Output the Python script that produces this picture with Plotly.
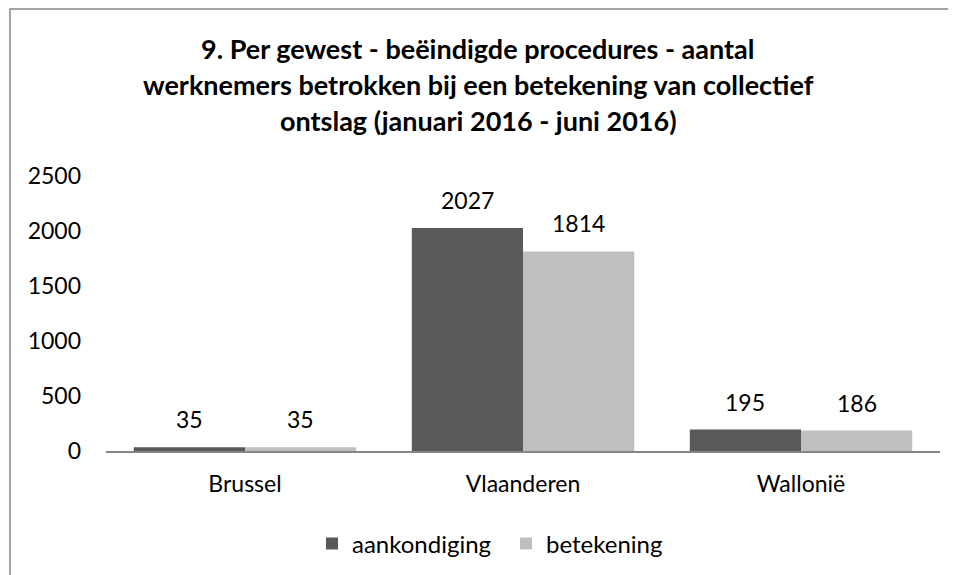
import plotly.graph_objects as go

categories = ["Brussel", "Vlaanderen", "Wallonië"]
series_names = ["aankondiging", "betekening"]
aankondiging = [35, 2027, 195]
betekening = [35, 1814, 186]
y_ticks = [0, 500, 1000, 1500, 2000, 2500]

title_lines = ["9. Per gewest - beëindigde procedures - aantal",
               "werknemers betrokken bij een betekening van collectief",
               "ontslag (januari 2016 - juni 2016)"]

colors = ["#595959", "#BFBFBF"]
FONT = "Lato, 'Open Sans', sans-serif"

W, H = 956, 575
OFF = 8  # page body margin offset
ml, mt = 106 - OFF, 176 - OFF
plot_w = 940 - 106
plot_h = 451 - 176
mr = W - ml - plot_w
mb = H - mt - plot_h


def paper_y(screen_y):
    return (451 - screen_y) / plot_h


def paper_x(screen_x):
    return (screen_x - 106) / plot_w


fig = go.Figure()
for name, vals, col in zip(series_names, [aankondiging, betekening], colors):
    fig.add_trace(go.Bar(name=name, x=categories, y=vals, marker_color=col,
                         marker_line_width=0))

# data labels above bars
cat_w = plot_w / len(categories)
bar_w = cat_w * 0.8 / 2
for i, vals in enumerate([aankondiging, betekening]):
    shift = (i - 0.5) * bar_w
    for c, v in zip(categories, vals):
        fig.add_annotation(x=c, y=v, text=str(v), showarrow=False,
                           xshift=shift, yshift=28, yanchor="middle",
                           font=dict(family=FONT, size=23, color="#000000"))

# title, three lines
for k, line in enumerate(title_lines):
    fig.add_annotation(xref="paper", yref="paper", x=paper_x(478),
                       y=paper_y(49 + 35.5 * k), text="<b>" + line + "</b>",
                       showarrow=False, xanchor="center", yanchor="middle",
                       font=dict(family=FONT, size=27, color="#000000"))

# chart border (partly off-screen like in the reference)
fig.add_shape(type="rect", xref="paper", yref="paper",
              x0=paper_x(10), x1=1.08,
              y0=-0.8, y1=paper_y(9),
              line=dict(color="#868686", width=1.5), fillcolor="rgba(0,0,0,0)",
              layer="below")

fig.update_layout(
    width=W, height=H,
    margin=dict(l=ml, r=mr, t=mt, b=mb),
    paper_bgcolor="white", plot_bgcolor="white",
    barmode="group", bargap=0.2, bargroupgap=0,
    font=dict(family=FONT, size=23, color="#000000"),
    showlegend=True,
    legend=dict(orientation="h", xref="container", yref="container",
                x=(506 - OFF) / W, xanchor="center", y=1 - (544 - OFF) / H, yanchor="middle",
                font=dict(family=FONT, size=24, color="#000000"),
                entrywidth=149, entrywidthmode="pixels",
                itemwidth=30, traceorder="normal"),
    xaxis=dict(showline=True, linecolor="#868686", linewidth=1.5,
               ticks="", showgrid=False, ticklabelstandoff=12,
               tickfont=dict(family=FONT, size=23, color="#000000")),
    yaxis=dict(range=[0, 2500], tickvals=y_ticks, showgrid=False,
               showline=False, zeroline=False, ticks="",
               ticklabelstandoff=24,
               tickfont=dict(family=FONT, size=23, color="#000000")),
)

fig.write_html("out.html")
